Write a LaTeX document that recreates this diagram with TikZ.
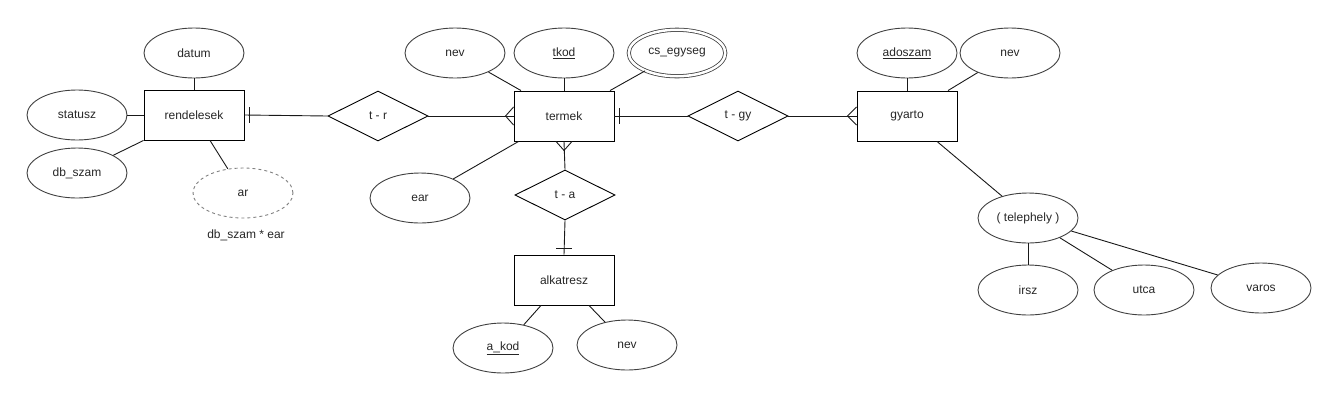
\documentclass[tikz,border=0pt]{standalone}
\usepackage{fontspec}
\setmainfont{Liberation Sans}
\usetikzlibrary{shapes.geometric}
\begin{document}
\begin{tikzpicture}[x=1pt,y=-1pt,
  every node/.style={font=\fontsize{12}{14}\selectfont, text=black!85},
  ent/.style={draw=black, line width=0.9pt, rectangle, minimum width=100pt, minimum height=50pt, inner sep=0pt},
  attr/.style={draw=black!75, line width=0.9pt, ellipse, minimum width=100pt, minimum height=50pt, inner sep=0pt},
  derived/.style={draw=black!50, line width=0.9pt, dash pattern=on 3pt off 3pt, ellipse, minimum width=100pt, minimum height=50pt, inner sep=0pt},
  multi/.style={draw=black!75, line width=0.8pt, double=white, double distance=2.5pt, ellipse, minimum width=96.5pt, minimum height=46.5pt, inner sep=0pt},
  rel/.style={draw=black, line width=0.9pt, diamond, minimum width=100pt, minimum height=50pt, inner sep=0pt},
  conn/.style={draw=black!90, line width=0.9pt},
  plain/.style={inner sep=0pt}
]
\useasboundingbox (0,0) rectangle (1337,400);

% entities
\node[ent] (rendelesek) at (194,115) {rendelesek};
\node[ent] (termek) at (564,116) {termek};
\node[ent] (gyarto) at (907,116) {gyarto};
\node[ent] (alkatresz) at (564,280) {alkatresz};

% relationships
\node[rel] (tr) at (378,116) {t - r};
\node[rel] (tgy) at (738,116) {t - gy};
\node[rel] (ta) at (565,195) {t - a};

% attributes of rendelesek
\node[attr] (datum) at (194,53) {datum};
\node[attr] (statusz) at (77,115) {statusz};
\node[attr] (dbszam) at (77,173) {db\_szam};
\node[derived] (ar) at (243,193) {ar};
\node[plain] (arlabel) at (246,235) {db\_szam * ear};

% attributes of termek
\node[attr] (tnev) at (455,53) {nev};
\node[attr] (tkod) at (564,53) {\underline{tkod}};
\node[multi] (csegyseg) at (677,53) {cs\_egyseg};
\node[attr] (ear) at (420,198) {ear};

% attributes of alkatresz
\node[attr] (akod) at (503,348) {\underline{a\_kod}};
\node[attr] (anev) at (627,345) {nev};

% attributes of gyarto
\node[attr] (adoszam) at (907,53) {\underline{adoszam}};
\node[attr] (gnev) at (1010,53) {nev};
\node[attr] (telephely) at (1028,218) {( telephely )};
\node[attr] (irsz) at (1028,290) {irsz};
\node[attr] (utca) at (1144,290) {utca};
\node[attr] (varos) at (1261,288) {varos};

% attribute connectors
\draw[conn] (datum) -- (rendelesek);
\draw[conn] (statusz) -- (rendelesek);
\draw[conn] (rendelesek.south west) -- (dbszam);
\draw[conn] ([xshift=16pt]rendelesek.south) -- (ar);

\draw[conn] ([xshift=-43pt]termek.north) -- (tnev);
\draw[conn] (tkod) -- (termek);
\draw[conn] ([xshift=46pt]termek.north) -- (csegyseg);
\draw[conn] ([xshift=5pt]termek.south west) -- (ear);

\draw[conn] ([xshift=-23pt]alkatresz.south) -- (akod);
\draw[conn] ([xshift=25pt]alkatresz.south) -- (anev);

\draw[conn] (adoszam) -- (gyarto);
\draw[conn] ([xshift=41pt]gyarto.north) -- (gnev);
\draw[conn] ([xshift=30pt]gyarto.south) -- (telephely);
\draw[conn] (telephely) -- (irsz);
\draw[conn] (telephely) -- (utca);
\draw[conn] (telephely) -- (varos);

% relationship connectors
\draw[conn] (rendelesek.east) -- (tr.west);
\draw[conn] (tr.east) -- (termek.west);
\draw[conn] (termek.east) -- (tgy.west);
\draw[conn] (tgy.east) -- (gyarto.west);
\draw[conn] (termek.south) -- (ta.north);
\draw[conn] (ta.south) -- (alkatresz.north);

% cardinality marks: one
\draw[conn] ([xshift=5pt,yshift=8pt]rendelesek.east) -- ([xshift=5pt,yshift=-8pt]rendelesek.east);
\draw[conn] ([xshift=5pt,yshift=8pt]termek.east) -- ([xshift=5pt,yshift=-8pt]termek.east);
\draw[conn] ([xshift=-8pt,yshift=6pt]alkatresz.north) -- ([xshift=8pt,yshift=6pt]alkatresz.north);

% cardinality marks: many (crow's feet)
\draw[conn] ([yshift=9pt]termek.west) -- ([xshift=-8pt]termek.west) -- ([yshift=-9pt]termek.west);
\draw[conn] ([xshift=-8pt]termek.south) -- ([yshift=-9pt]termek.south) -- ([xshift=8pt]termek.south);
\draw[conn] ([yshift=9pt]gyarto.west) -- ([xshift=-9pt]gyarto.west) -- ([yshift=-9pt]gyarto.west);
\end{tikzpicture}
\end{document}
